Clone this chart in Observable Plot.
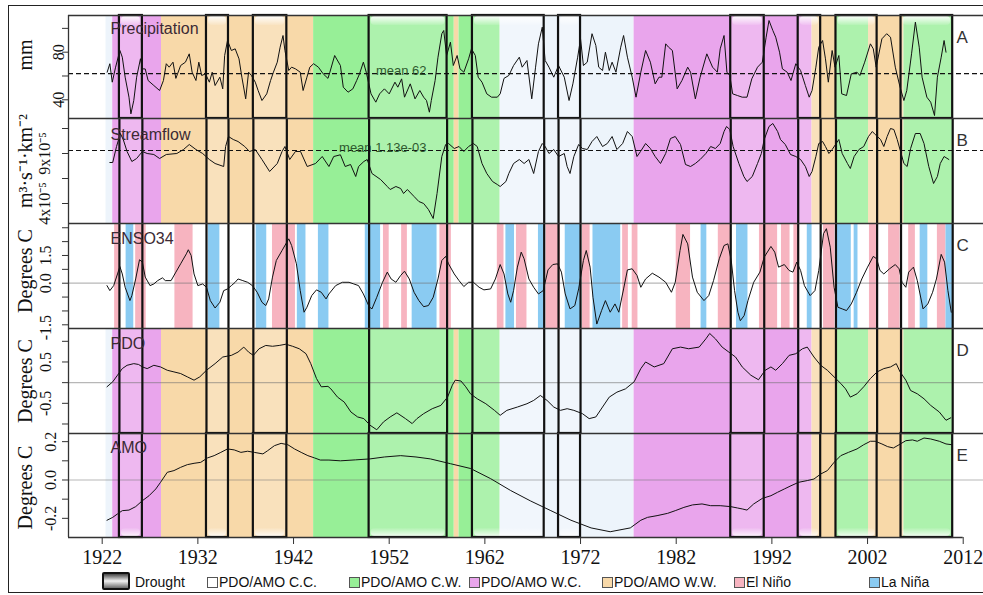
<!DOCTYPE html>
<html>
<head>
<meta charset="utf-8">
<script src="https://cdn.jsdelivr.net/npm/d3@7"></script>
<script src="https://cdn.jsdelivr.net/npm/@observablehq/plot@0.6"></script>
<style>
  body { margin: 0; background: #fff; }
  #fig { position: relative; width: 983px; height: 595px; overflow: hidden; font-family: "Liberation Sans", Arial, sans-serif; }
  #frame { position: absolute; left: 8px; top: 5px; width: 990px; height: 588px; border: 1.5px solid #222; box-sizing: border-box; }
  .lg { position: absolute; }
  .sw { position: absolute; width: 9px; height: 9px; border: 1px solid #555; }
  .lt { position: absolute; font-size: 14px; color: #111; line-height: 18px; white-space: nowrap; }
</style>
</head>
<body>
<div id="fig"><div id="frame"></div></div>
<script>
// ---------- data ----------
const years = [1922, 1932, 1942, 1952, 1962, 1972, 1982, 1992, 2002, 2012];

// PDO/AMO phase periods (C = cool, W = warm)
const phases = [
  {start: 1922.4, end: 1923.1, phase: "C.C."},
  {start: 1923.1, end: 1928.2, phase: "W.C."},
  {start: 1928.2, end: 1944.1, phase: "W.W."},
  {start: 1944.1, end: 1958.8, phase: "C.W."},
  {start: 1958.8, end: 1959.3, phase: "W.W."},
  {start: 1959.3, end: 1963.6, phase: "C.W."},
  {start: 1963.6, end: 1977.6, phase: "C.C."},
  {start: 1977.6, end: 1996.2, phase: "W.C."},
  {start: 1996.2, end: 1998.7, phase: "W.W."},
  {start: 1998.7, end: 2002.1, phase: "C.W."},
  {start: 2002.1, end: 2005.8, phase: "W.W."},
  {start: 2005.8, end: 2010.9, phase: "C.W."}
];

// Drought periods
const droughts = [
  {start: 1923.8, end: 1926.2}, {start: 1932.9, end: 1935.2}, {start: 1937.8, end: 1941.3},
  {start: 1949.9, end: 1958.05}, {start: 1960.7, end: 1968.2}, {start: 1969.7, end: 1972.0},
  {start: 1987.7, end: 1991.2}, {start: 1994.75, end: 1997.1}, {start: 1998.7, end: 2003.0},
  {start: 2005.5, end: 2010.9}
];

// ENSO events (El Niño / La Niña)
const ensoEvents = [
  {start: 1923.3, end: 1923.8, type: "nino"}, {start: 1924.5, end: 1925.3, type: "nina"},
  {start: 1925.5, end: 1926.6, type: "nino"}, {start: 1929.6, end: 1931.5, type: "nino"},
  {start: 1933.1, end: 1934.3, type: "nina"}, {start: 1938.1, end: 1939.2, type: "nina"},
  {start: 1939.8, end: 1942.2, type: "nino"}, {start: 1942.4, end: 1943.3, type: "nina"},
  {start: 1944.6, end: 1945.7, type: "nina"}, {start: 1949.5, end: 1951.1, type: "nina"},
  {start: 1951.4, end: 1952.0, type: "nino"}, {start: 1953.3, end: 1953.9, type: "nino"},
  {start: 1954.4, end: 1957.0, type: "nina"}, {start: 1957.3, end: 1958.5, type: "nino"},
  {start: 1963.3, end: 1964.0, type: "nino"}, {start: 1964.2, end: 1965.1, type: "nina"},
  {start: 1965.3, end: 1966.4, type: "nino"}, {start: 1967.6, end: 1968.3, type: "nina"},
  {start: 1968.4, end: 1969.9, type: "nino"}, {start: 1970.4, end: 1972.0, type: "nina"},
  {start: 1972.2, end: 1973.0, type: "nino"}, {start: 1973.3, end: 1976.2, type: "nina"},
  {start: 1976.4, end: 1977.0, type: "nino"}, {start: 1977.4, end: 1978.0, type: "nino"},
  {start: 1982.0, end: 1983.5, type: "nino"}, {start: 1984.6, end: 1985.2, type: "nina"},
  {start: 1986.4, end: 1987.7, type: "nino"}, {start: 1988.3, end: 1989.5, type: "nina"},
  {start: 1990.7, end: 1992.6, type: "nino"}, {start: 1993.0, end: 1993.9, type: "nino"},
  {start: 1994.3, end: 1994.8, type: "nino"}, {start: 1995.7, end: 1996.2, type: "nina"},
  {start: 1997.4, end: 1998.6, type: "nino"}, {start: 1998.8, end: 2000.3, type: "nina"},
  {start: 2000.6, end: 2001.0, type: "nina"}, {start: 2002.2, end: 2003.0, type: "nino"},
  {start: 2004.2, end: 2005.4, type: "nino"}, {start: 2006.3, end: 2007.0, type: "nino"},
  {start: 2007.5, end: 2008.3, type: "nina"}, {start: 2009.3, end: 2010.2, type: "nino"},
  {start: 2010.2, end: 2010.9, type: "nina"}
];

// Precipitation (mm), [year, value]
const precipitation = [
  [1922.52,63.2],[1922.8,70.3],[1923.05,54.8],[1923.4,67.4],[1923.85,81.4],[1924.1,75.8],[1924.4,59],[1924.8,42.2],[1925.0,28.2],[1925.3,39.4],[1925.6,59],[1926.0,74.5],[1926.2,66],[1926.5,65.9],[1926.8,56.2],[1927.4,52],[1928.0,47.8],[1928.4,56.2],[1928.7,70.3],[1929.0,67.4],[1929.4,71.6],[1929.7,58],[1930.2,68.8],[1930.7,71.6],[1931.1,78.6],[1931.4,63.2],[1931.8,56.2],[1932.1,71.6],[1932.4,60.4],[1932.8,61.8],[1933.2,54.8],[1933.5,63.2],[1933.8,52],[1934.3,59],[1934.6,49.2],[1934.8,77.2],[1935.1,89.8],[1935.5,81.4],[1935.9,82.8],[1936.3,74.4],[1936.6,59],[1937.0,40.8],[1937.3,63.2],[1937.6,60.4],[1938.0,54.8],[1938.3,47.8],[1938.7,39.4],[1939.2,45],[1939.6,56.2],[1939.9,63.2],[1940.3,71.6],[1940.6,84.2],[1940.9,94],[1941.1,81.4],[1941.5,64.6],[1941.8,67.4],[1942.2,66],[1942.7,63.2],[1943.0,47.8],[1943.4,59],[1943.7,67.4],[1944.1,70.3],[1944.6,67.4],[1945.1,61.8],[1945.6,58],
  [1945.8,63.2],[1946.3,77.2],[1946.9,68.8],[1947.2,50.6],[1947.7,46.4],[1948.2,49.2],[1948.6,56.2],[1948.9,61.8],[1949.3,71.6],[1949.6,63.2],[1950.1,45],[1950.6,38],[1951.0,45],[1951.5,49.2],[1952.0,45],[1952.6,54.8],[1952.9,50.6],[1953.3,57.6],[1953.6,42.2],[1954.2,53.4],[1954.7,40.8],[1955.2,47.8],[1955.6,42.2],[1955.9,39.4],[1956.2,29.6],[1956.4,39.4],[1956.8,56.2],[1957.1,75.8],[1957.5,95.5],[1957.7,98.2],[1958.0,77.2],[1958.4,88.4],[1958.7,68.8],[1959.1,77.2],[1959.4,66],[1959.8,63.2],[1960.3,74.4],[1960.6,82.8],[1961.0,77.2],[1961.3,59],[1961.7,54.8],[1962.2,45],[1962.7,42.2],[1963.3,42.2],[1963.6,45],[1964.0,58],[1964.5,60.4],[1965.0,68.8],[1965.6,75.8],[1965.9,67.4],[1966.4,73],[1966.9,40.8],[1967.3,67.4],[1967.6,87],[1968.0,101],[1968.3,73],[1968.7,67.4],[1969.2,59],[1969.7,68.8],[1970.3,59],[1970.8,39.4],[1971.2,53.4],[1971.7,75.8],[1972.0,91.2],[1972.3,68.8],[1972.7,71.6],[1973.2,95.5],[1973.6,85.6],[1973.9,67.4],[1974.3,64.6],[1974.6,80],[1975.0,64.6],[1975.3,71.6],[1975.7,63.2],[1976.2,84.2],[1976.5,94],[1976.9,75.8],[1977.4,59],[1977.8,42.2],
  [1978.3,63.2],[1978.8,81.4],[1979.3,71.6],[1979.8,53.4],[1980.2,59],[1980.5,59],[1980.9,87],[1981.2,84.2],[1981.6,81.4],[1982.1,49.2],[1982.6,56.2],[1983.2,67.4],[1983.5,63.2],[1984.0,40.8],[1984.5,59],[1985.2,78.6],[1985.8,67.4],[1986.3,63.2],[1986.6,82.8],[1987.0,94],[1987.3,63.2],[1987.6,60.4],[1987.9,45],[1988.4,43.6],[1988.9,42.2],[1989.4,42.2],[1989.9,57.6],[1990.5,67.4],[1991.0,71.6],[1991.4,92.6],[1991.7,106.6],[1992.1,98.2],[1992.4,92.6],[1992.8,80],[1993.1,66],[1993.6,63.2],[1994.0,56.2],[1994.5,70.3],[1995.0,64.6],[1995.5,52],[1995.9,42.2],[1996.2,47.8],[1996.6,67.4],[1996.9,84.2],[1997.3,89.8],[1997.6,74.4],[1997.9,54.8],[1998.3,81.4],[1998.6,67.4],[1999.0,77.2],[1999.3,45],[1999.8,43.6],[2000.3,61.8],[2000.9,63.2],[2001.2,60.4],[2001.7,71.6],[2002.3,87],[2002.6,82.8],[2002.9,67.4],[2003.5,91.2],[2004.0,95.5],[2004.4,92.6],[2004.9,67.4],[2005.4,50.6],[2005.8,39.4],[2006.1,47.8],[2006.6,78.6],[2007.0,105.2],[2007.4,84.2],[2007.7,59],[2008.2,42.2],[2008.6,38],[2009.0,26.8],[2009.3,59],[2009.7,75.8],[2010.0,89.8],[2010.2,80]
];
const precipMean = 62;

// Streamflow (10^-3 m3 s-1 km-2), [year, value]
const streamflow = [
  [1922.8,1.01],[1923.1,1.01],[1923.5,1.17],[1923.9,1.30],[1924.2,1.24],[1924.6,1.12],[1925.1,1.02],[1925.6,1.05],[1926.2,1.12],[1926.7,1.10],[1927.4,1.09],[1928.0,1.05],[1928.7,1.09],[1929.8,1.10],[1930.5,1.14],[1931.1,1.19],[1931.8,1.14],[1932.5,1.10],[1933.2,1.04],[1933.8,1.00],[1934.7,0.97],[1934.9,1.17],[1935.2,1.27],[1935.7,1.24],[1936.2,1.22],[1936.9,1.17],[1937.4,1.12],[1938.0,1.14],[1938.7,1.04],[1939.5,0.92],[1940.3,1.00],[1940.8,1.12],[1941.1,1.17],[1941.6,1.04],[1942.2,1.12],
  [1942.73,1.12],[1943.43,0.97],[1944.3,1.00],[1945.0,1.07],[1945.7,0.97],[1946.2,1.07],[1946.9,1.087],[1947.4,0.97],[1947.96,0.99],[1948.5,0.87],[1948.8,0.97],[1949.35,1.02],[1949.7,1.04],[1950.2,0.90],[1951.1,0.84],[1951.8,0.77],[1952.1,0.74],[1952.7,0.77],[1953.2,0.75],[1953.5,0.70],[1953.9,0.74],[1954.6,0.67],[1955.1,0.62],[1955.6,0.60],[1956.1,0.54],[1956.6,0.45],[1957.0,0.70],[1957.5,1.07],[1957.9,1.19],[1958.2,1.20],[1958.8,1.15],[1959.3,1.17],[1959.8,1.12],[1960.3,1.17],[1960.8,1.20],[1961.2,1.17],[1961.7,1.00],[1962.2,0.90],[1962.8,0.82],[1963.3,0.79],[1963.6,0.77],[1964.2,0.82],[1964.5,0.90],[1965.0,1.00],[1965.6,1.04],[1966.1,1.00],[1966.6,1.04],[1967.1,0.90],[1967.6,1.12],[1968.0,1.20],[1968.3,1.17],[1968.7,1.10],[1969.2,1.14],[1969.7,1.07],[1970.3,1.10],[1970.6,0.97],[1970.9,0.90],[1971.3,1.07],[1971.8,1.19],[1972.2,1.15],[1972.7,1.14],[1973.2,1.22],[1973.7,1.27],[1974.3,1.17],[1974.8,1.20],[1975.3,1.27],[1975.8,1.14],[1976.4,1.20],[1976.9,1.32],[1977.4,1.27],[1977.9,1.07],
  [1978.27,1.12],[1978.8,1.20],[1979.3,1.15],[1979.8,1.07],[1980.36,1.00],[1980.9,1.10],[1981.4,1.25],[1981.9,1.27],[1982.45,1.19],[1982.97,0.99],[1983.5,0.97],[1984.0,1.00],[1984.5,1.04],[1985.1,1.10],[1985.6,1.17],[1986.1,1.15],[1986.6,1.20],[1987.0,1.32],[1987.26,1.37],[1987.6,1.34],[1987.95,1.17],[1988.55,1.00],[1989.07,0.87],[1989.4,0.82],[1989.95,0.87],[1990.5,1.00],[1990.9,1.10],[1991.2,1.24],[1991.7,1.37],[1992.1,1.40],[1992.6,1.32],[1992.9,1.24],[1993.4,1.19],[1993.95,1.09],[1994.5,1.07],[1995.0,1.04],[1995.5,0.97],[1995.9,0.87],[1996.2,0.92],[1996.6,1.07],[1996.9,1.20],[1997.3,1.22],[1997.6,1.17],[1997.96,1.10],[1998.3,1.14],[1998.65,1.19],[1999.0,1.24],[1999.35,1.10],[1999.9,1.00],[2000.2,0.95],[2000.6,1.07],[2001.1,1.14],[2001.6,1.17],[2002.1,1.27],[2002.5,1.32],[2002.8,1.29],[2003.36,1.24],[2003.7,1.17],[2004.05,1.27],[2004.4,1.35],[2004.75,1.34],[2005.1,1.24],[2005.45,1.12],[2005.8,1.00],[2006.14,0.97],[2006.5,1.15],[2007.0,1.30],[2007.5,1.30],[2007.9,1.20],[2008.4,0.97],[2008.9,0.80],[2009.3,0.87],[2009.6,1.00],[2010.0,1.07],[2010.5,1.04]
];
const streamMean = 1.13;

// Niño 3.4 anomaly (°C), [year, value]
const enso34 = [
  [1922.5,-0.13],[1922.8,-0.40],[1923.2,-0.13],[1923.6,0.5],[1923.85,0.9],[1924.1,0.5],[1924.4,-0.22],[1924.9,-0.94],[1925.1,-0.67],[1925.5,0.23],[1925.9,1.27],[1926.2,1.14],[1926.5,0.33],[1927.0,-0.13],[1927.4,-0.04],[1927.8,0.14],[1928.3,0.29],[1928.6,0.14],[1929.2,0.14],[1929.7,0.6],[1930.2,1.05],[1930.8,1.59],[1931.0,1.81],[1931.3,1.5],[1931.6,0.5],[1932.0,-0.13],[1932.5,-0.04],[1932.9,-0.22],[1933.3,-0.94],[1933.8,-1.34],[1934.3,-1.03],[1934.7,-0.4],[1935.1,-0.31],[1935.5,-0.13],[1935.9,0.05],[1936.2,0.23],[1936.7,0.14],[1937.2,0.05],[1937.7,-0.13],[1938.2,-0.49],[1938.7,-1.03],[1939.1,-1.21],[1939.4,-0.85],[1939.8,0.33],[1940.2,1.23],[1940.8,1.77],[1941.5,2.4],[1941.8,2.04],[1942.3,1.05],[1942.7,-0.4],[1943.1,-1.57],[1943.4,-1.3],[1943.9,-0.67],[1944.4,-0.36],[1944.9,-0.49],[1945.4,-0.85],[1945.7,-0.58],
  [1946.4,-0.13],[1947.1,0.05],[1947.8,0.05],[1948.3,-0.04],[1948.8,-0.13],[1949.3,-0.58],[1949.9,-1.27],[1950.2,-1.39],[1950.7,-0.76],[1951.3,0.05],[1951.8,0.6],[1952.2,0.23],[1952.7,0.05],[1953.2,0.42],[1953.6,0.65],[1954.1,0.23],[1954.6,-0.49],[1955.1,-0.94],[1955.6,-1.27],[1956.1,-1.21],[1956.6,-0.76],[1957.1,0.23],[1957.5,1.23],[1957.9,1.45],[1958.2,1.05],[1958.8,0.5],[1959.3,0.14],[1959.8,-0.18],[1960.3,0.05],[1960.8,0.05],[1961.4,-0.22],[1961.9,-0.36],[1962.6,-0.31],[1963.1,0.23],[1963.6,1.01],[1964.0,0.5],[1964.4,-0.58],[1964.7,-1.03],[1965.0,-0.4],[1965.4,0.87],[1965.8,1.68],[1966.1,1.32],[1966.6,0.23],[1967.1,-0.22],[1967.6,-0.58],[1968.1,-0.4],[1968.6,0.72],[1969.1,1.01],[1969.6,1.05],[1970.0,0.6],[1970.4,-0.58],[1970.9,-1.39],[1971.4,-1.21],[1971.8,-0.31],[1972.3,1.23],[1972.6,1.77],[1973.0,0.87],[1973.3,-0.76],[1973.7,-2.21],[1974.2,-1.48],[1974.6,-0.94],[1975.1,-1.57],[1975.6,-1.12],[1976.0,-1.57],[1976.5,-0.31],[1976.9,0.72],[1977.4,0.78],[1977.9,0.42],
  [1978.3,-0.22],[1978.8,0.23],[1979.5,0.54],[1980.2,0.33],[1980.9,0.05],[1981.5,-0.49],[1981.9,0.05],[1982.4,1.77],[1982.7,2.64],[1983.2,2.13],[1983.7,0.33],[1984.2,-0.49],[1984.9,-0.94],[1985.4,-0.67],[1985.9,0.14],[1986.5,1.32],[1987.0,2.04],[1987.4,2.13],[1987.75,1.23],[1988.1,-0.4],[1988.45,-1.57],[1988.7,-2.03],[1989.1,-1.75],[1989.5,-0.94],[1990.1,0.05],[1990.75,0.6],[1991.2,1.41],[1991.9,1.99],[1992.3,1.68],[1992.7,0.87],[1993.3,1.01],[1993.8,0.69],[1994.2,0.6],[1994.6,1.14],[1995.0,0.69],[1995.4,-0.13],[1996.0,-0.67],[1996.5,-0.4],[1996.9,0.69],[1997.4,2.68],[1997.7,2.95],[1998.1,1.95],[1998.5,-0.22],[1998.9,-1.3],[1999.35,-1.39],[1999.8,-1.48],[2000.3,-1.12],[2000.85,-0.49],[2001.4,0.23],[2002.0,0.87],[2002.6,1.45],[2002.95,1.32],[2003.3,0.69],[2003.7,0.5],[2004.3,0.78],[2004.9,1.01],[2005.3,0.78],[2005.6,0.05],[2006.0,-0.22],[2006.3,0.6],[2006.8,0.87],[2007.2,0.14],[2007.8,-1.39],[2008.3,-1.12],[2008.8,-0.49],[2009.2,0.23],[2009.7,1.56],[2010.05,1.14],[2010.4,-0.4],[2010.75,-1.57]
];

// Pacific Decadal Oscillation (°C), [year, value]
const pdo = [
  [1922.5,-0.10],[1923.1,0.02],[1923.6,0.18],[1924.1,0.34],[1924.6,0.42],[1925.3,0.46],[1925.8,0.44],[1926.2,0.38],[1926.7,0.34],[1927.4,0.42],[1928.1,0.38],[1928.8,0.30],[1929.5,0.26],[1930.2,0.22],[1930.9,0.14],[1931.6,0.06],[1932.2,0.14],[1932.9,0.30],[1933.8,0.46],[1934.6,0.62],[1935.5,0.66],[1936.2,0.74],[1936.8,0.86],[1937.3,0.74],[1937.8,0.66],[1938.4,0.82],[1939.1,0.90],[1939.8,0.88],[1940.5,0.90],[1941.2,0.93],[1941.9,0.88],[1942.6,0.82],[1943.3,0.70],[1943.8,0.46],[1944.4,0.10],[1944.9,-0.10],[1945.6,-0.09],
  [1945.9,-0.15],[1946.6,-0.35],[1947.3,-0.47],[1948.0,-0.71],[1948.7,-0.83],[1949.35,-0.87],[1950.0,-1.03],[1950.7,-1.14],[1951.4,-0.95],[1952.1,-0.83],[1952.8,-0.73],[1953.7,-0.87],[1954.4,-0.99],[1954.9,-0.87],[1955.6,-0.75],[1956.5,-0.63],[1957.4,-0.55],[1958.1,-0.35],[1958.6,-0.06],[1958.9,0.06],[1959.5,0.04],[1960.0,-0.10],[1960.5,-0.27],[1961.2,-0.39],[1962.1,-0.51],[1963.0,-0.67],[1963.6,-0.79],[1964.3,-0.67],[1965.4,-0.59],[1966.4,-0.51],[1967.1,-0.43],[1967.8,-0.31],[1968.5,-0.43],[1969.2,-0.59],[1969.9,-0.67],[1970.6,-0.63],[1971.3,-0.67],[1972.2,-0.75],[1972.9,-0.87],[1973.6,-0.83],[1974.3,-0.59],[1975.0,-0.35],[1975.8,-0.23],[1976.7,-0.15],[1977.6,0.02],
  [1978.3,0.34],[1978.8,0.50],[1979.7,0.38],[1980.7,0.46],[1981.6,0.82],[1982.45,0.86],[1983.3,0.82],[1984.4,0.86],[1985.1,1.06],[1985.5,1.19],[1986.1,1.06],[1986.8,0.86],[1987.5,0.74],[1988.2,0.62],[1988.9,0.38],[1989.8,0.18],[1990.6,0.07],[1991.3,0.30],[1991.9,0.38],[1992.4,0.30],[1993.1,0.46],[1993.8,0.66],[1994.5,0.70],[1995.2,0.82],[1995.7,0.86],[1996.4,0.62],[1997.1,0.42],[1997.8,0.30],[1998.5,0.14],[1999.2,-0.02],[1999.7,-0.15],[2000.2,-0.35],[2000.9,-0.27],[2001.6,-0.10],[2002.3,0.10],[2003.0,0.26],[2003.7,0.34],[2004.4,0.38],[2005.0,0.46],[2005.4,0.26],[2006.0,0.06],[2006.5,-0.19],[2007.2,-0.27],[2007.9,-0.39],[2008.6,-0.55],[2009.5,-0.71],[2010.2,-0.91],[2010.7,-0.85]
];

// Atlantic Multidecadal Oscillation (°C), [year, value]
const amo = [
  [1922.5,-0.21],[1923.1,-0.195],[1923.6,-0.177],[1924.1,-0.16],[1924.8,-0.157],[1925.5,-0.139],[1926.2,-0.108],[1926.9,-0.082],[1927.6,-0.047],[1928.1,-0.012],[1928.8,0.04],[1929.5,0.049],[1930.2,0.066],[1930.9,0.08],[1931.6,0.087],[1932.3,0.092],[1933.0,0.115],[1933.7,0.127],[1934.4,0.144],[1935.1,0.162],[1935.8,0.157],[1936.5,0.144],[1937.2,0.15],[1937.9,0.144],[1938.8,0.136],[1939.3,0.153],[1940.0,0.179],[1940.7,0.191],[1941.4,0.184],[1942.1,0.162],[1942.8,0.144],[1943.5,0.127],[1944.2,0.115],[1944.8,0.104],[1945.7,0.104],
  [1946.9,0.10],[1948.5,0.105],[1950.0,0.11],[1951.5,0.12],[1953.2,0.127],[1954.8,0.12],[1956.3,0.11],[1958.4,0.085],[1960.5,0.06],[1962.6,0.007],[1964.7,-0.055],[1966.8,-0.11],[1968.9,-0.16],[1971.0,-0.21],[1973.1,-0.25],[1975.1,-0.27],[1977.2,-0.25],
  [1978.3,-0.21],[1979.0,-0.195],[1980.0,-0.186],[1981.1,-0.174],[1981.9,-0.16],[1982.8,-0.143],[1983.7,-0.13],[1984.7,-0.125],[1985.6,-0.134],[1986.6,-0.134],[1987.7,-0.139],[1988.4,-0.146],[1988.9,-0.151],[1989.4,-0.157],[1990.1,-0.125],[1991.0,-0.096],[1991.9,-0.082],[1992.6,-0.064],[1993.3,-0.047],[1994.0,-0.03],[1994.8,-0.012],[1995.7,-0.003],[1996.4,0.005],[1997.1,0.031],[1997.8,0.049],[1998.5,0.092],[1999.2,0.127],[2000.0,0.144],[2000.9,0.162],[2001.6,0.184],[2002.3,0.202],[2002.8,0.202],[2003.5,0.188],[2004.1,0.174],[2004.7,0.167],[2005.3,0.184],[2006.0,0.205],[2006.7,0.209],[2007.2,0.202],[2007.9,0.219],[2008.6,0.214],[2009.5,0.202],[2010.2,0.188],[2010.8,0.184]
];

// Axis ticks and their labels
const precipTicks = [40, 60, 80, 100];
const precipLabels = [{v: 40, t: "40"}, {v: 80, t: "80"}];
const streamTicks = [0.60, 0.85, 1.10, 1.35];
const streamLabels = [{v: 1.10, t: "9x10\u207B\u2075"}, {v: 0.60, t: "4x10\u207B\u2075"}];
const ensoTicks = [-2.25, -1.5, -0.75, 0, 0.75, 1.5, 2.25, 3.0];
const ensoLabels = [{v: 1.5, t: "1.5"}, {v: 0, t: "0.0"}, {v: -2.4, t: "-1.5"}];
const pdoTicks = [-1, -0.5, 0, 0.5, 1];
const pdoLabels = [{v: 0.5, t: "0.5"}, {v: -0.5, t: "-0.5"}];
const amoTicks = [-0.2, -0.1, 0, 0.1, 0.2];
const amoLabels = [{v: 0.2, t: "0.2"}, {v: 0, t: "0.0"}, {v: -0.2, t: "-0.2"}];

const phaseColor = {"C.C.": "#edf4fb", "C.W.": "#97ef97", "W.C.": "#e9a5ec", "W.W.": "#f8d9a9"};
const ensoColor = {nino: "#f7b4c0", nina: "#8acbf2"};

// ---------- drawing ----------
const fig = document.getElementById("fig");
const serif = "'Liberation Serif','Times New Roman',serif";
const sans = "'Liberation Sans',Arial,sans-serif";
const xDomain = [1918.478, 2014.12];
const ink = "#111";
const titleColor = "#3c2a34";

function addPanel(top, h, yDomain, marks, marginBottom = 0) {
  const svg = Plot.plot({
    width: 983, height: h + marginBottom,
    marginLeft: 68, marginRight: 0, marginTop: 0, marginBottom,
    x: {domain: xDomain, axis: null},
    y: {domain: yDomain, axis: null},
    color: {type: "identity"},
    style: {background: "none", overflow: "visible"},
    marks
  });
  svg.style.position = "absolute";
  svg.style.left = "0px";
  svg.style.top = top + "px";
  fig.appendChild(svg);
  return svg;
}

const phaseBackdrop = () => Plot.rect(phases, {x1: "start", x2: "end", fill: d => phaseColor[d.phase]});
const droughtHaze = () => Plot.rect(droughts, {x1: "start", x2: "end", fill: "#fff", fillOpacity: 0.22});
const droughtSides = () => Plot.ruleX(droughts.flatMap(d => [d.start, d.end]), {stroke: ink, strokeWidth: 2.2});
const series = (data) => Plot.line(data, {x: d => d[0], y: d => d[1], stroke: ink, strokeWidth: 1});
const zeroLine = () => Plot.ruleY([0], {stroke: "#6f6f6f", strokeOpacity: 0.5, strokeWidth: 1.2});
const topLine = (v) => Plot.ruleY([v], {stroke: "#333", strokeWidth: 1.3});

function leftAxis(ticks, labels, labelDx, title, titleDy) {
  return [
    Plot.ruleX([xDomain[0]], {stroke: "#333", strokeWidth: 1.3}),
    Plot.tickY(ticks, {y: d => d, insetLeft: -6, insetRight: 915, stroke: "#333"}),
    Plot.text(labels, {y: d => d.v, text: d => d.t, frameAnchor: "left", dx: labelDx, rotate: -90,
      textAnchor: "middle", lineAnchor: "middle", fontFamily: serif, fontSize: 16, fill: ink}),
    Plot.text([title], {frameAnchor: "left", dx: -43, dy: titleDy, rotate: -90,
      textAnchor: "middle", lineAnchor: "middle", fontFamily: serif, fontSize: 20, fill: ink})
  ];
}
const panelTitle = (t, dy) => Plot.text([t], {frameAnchor: "top-left", dx: 42, dy, textAnchor: "start",
  lineAnchor: "top", fontFamily: sans, fontSize: 16, fill: titleColor});
const panelLetter = (t) => Plot.text([t], {frameAnchor: "top-right", dx: -27, dy: 22, textAnchor: "start",
  lineAnchor: "middle", fontFamily: sans, fontSize: 17, fill: "#333"});

// A: precipitation
const yA = [24.3, 110.8];
const svgA = addPanel(15, 103, yA, [
  phaseBackdrop(), droughtHaze(),
  Plot.rect(droughts, {x1: "start", x2: "end", fill: "url(#glossTop)", insetTop: 1, insetBottom: 93, insetLeft: 2, insetRight: 2, rx: 4}),
  Plot.ruleY([precipMean], {stroke: ink, strokeDasharray: "5,3", strokeWidth: 1.1}),
  Plot.text([{x: 1955.9, y: precipMean, t: "mean 62"}], {x: "x", y: "y", text: "t", textAnchor: "end", lineAnchor: "bottom", dy: 1, fontFamily: sans, fontSize: 13, fill: "#2f5a2f"}),
  series(precipitation),
  Plot.rect(droughts, {x1: "start", x2: "end", stroke: ink, strokeWidth: 2.2, fill: "none"}),
  topLine(yA[1]),
  ...leftAxis(precipTicks, precipLabels, -10, "mm", -12),
  panelTitle("Precipitation", 7), panelLetter("A")
]);
d3.select(svgA).insert("defs", ":first-child").html(
  `<linearGradient id="glossTop" x1="0" y1="0" x2="0" y2="1"><stop offset="0" stop-color="#fff" stop-opacity="0.95"/><stop offset="1" stop-color="#fff" stop-opacity="0.1"/></linearGradient>
   <linearGradient id="glossBottom" x1="0" y1="0" x2="0" y2="1"><stop offset="0" stop-color="#fff" stop-opacity="0.05"/><stop offset="1" stop-color="#fff" stop-opacity="0.8"/></linearGradient>`);

// B: streamflow
const yB = [0.40, 1.45];
addPanel(118, 105, yB, [
  phaseBackdrop(), droughtHaze(),
  Plot.ruleY([streamMean], {stroke: ink, strokeDasharray: "5,3", strokeWidth: 1.1}),
  Plot.text([{x: 1955.9, y: streamMean, t: "mean 1.13e-03"}], {x: "x", y: "y", text: "t", textAnchor: "end", lineAnchor: "bottom", dy: 1, fontFamily: sans, fontSize: 13, fill: "#2f5a2f"}),
  series(streamflow),
  droughtSides(),
  topLine(yB[1]),
  ...leftAxis(streamTicks, streamLabels, -24, "m\u00B3\u00B7s\u207B\u00B9\u00B7km\u207B\u00B2", -10),
  panelTitle("Streamflow", 10), panelLetter("B")
]);

// C: ENSO 3.4
const yC = [-2.45, 3.23];
addPanel(223, 105, yC, [
  Plot.rect(ensoEvents, {x1: "start", x2: "end", fill: d => ensoColor[d.type]}),
  zeroLine(),
  series(enso34),
  droughtSides(),
  topLine(yC[1]),
  ...leftAxis(ensoTicks, ensoLabels, -23, "Degrees C", -5),
  panelTitle("ENSO34", 9), panelLetter("C")
]);

// D: PDO
const yD = [-1.23, 1.31];
addPanel(328, 105, yD, [
  phaseBackdrop(), droughtHaze(),
  zeroLine(),
  series(pdo),
  droughtSides(),
  topLine(yD[1]),
  ...leftAxis(pdoTicks, pdoLabels, -23, "Degrees C", 0),
  panelTitle("PDO", 9), panelLetter("D")
]);

// E: AMO, with the time axis below
const yE = [-0.30, 0.2425];
addPanel(433, 104, yE, [
  phaseBackdrop(), droughtHaze(),
  Plot.rect(droughts, {x1: "start", x2: "end", fill: "url(#glossBottom)", insetTop: 95, insetBottom: 1, insetLeft: 2, insetRight: 2, rx: 4}),
  zeroLine(),
  series(amo),
  Plot.rect(droughts, {x1: "start", x2: "end", stroke: ink, strokeWidth: 2.2, fill: "none"}),
  topLine(yE[1]),
  Plot.ruleY([yE[0]], {x1: xDomain[0], x2: years[years.length - 1], stroke: "#333", strokeWidth: 1.3}),
  Plot.tickX(years, {x: d => d, insetTop: 104, insetBottom: -7, stroke: "#333"}),
  Plot.text(years, {x: d => d, text: d => String(d), frameAnchor: "bottom", dy: 20, lineAnchor: "middle", fontFamily: serif, fontSize: 20, fill: ink}),
  ...leftAxis(amoTicks, amoLabels, -18, "Degrees C", 2),
  panelTitle("AMO", 8), panelLetter("E")
], 40);

// ---------- legend ----------
const legendItems = [
  {label: "PDO/AMO C.C.", color: "#fff"},
  {label: "PDO/AMO C.W.", color: phaseColor["C.W."]},
  {label: "PDO/AMO W.C.", color: phaseColor["W.C."]},
  {label: "PDO/AMO W.W.", color: phaseColor["W.W."]},
  {label: "El Ni\u00F1o", color: ensoColor.nino},
  {label: "La Ni\u00F1a", color: ensoColor.nina}
];
const legendLeft = [207, 349, 469, 602, 734, 869];

const icon = document.createElement("div");
icon.className = "lg";
Object.assign(icon.style, {left: "102px", top: "572px", width: "28px", height: "18px", border: "2px solid #111",
  boxSizing: "border-box", borderRadius: "2px", background: "linear-gradient(#454545, #f2f2f2 50%, #6a6a6a)"});
fig.appendChild(icon);
const dl = document.createElement("div");
dl.className = "lt"; dl.textContent = "Drought";
Object.assign(dl.style, {left: "135px", top: "573px"});
fig.appendChild(dl);

legendItems.forEach((item, i) => {
  const sw = document.createElement("div");
  sw.className = "sw";
  Object.assign(sw.style, {left: legendLeft[i] + "px", top: "577px", background: item.color});
  fig.appendChild(sw);
  const tx = document.createElement("div");
  tx.className = "lt"; tx.textContent = item.label;
  Object.assign(tx.style, {left: (legendLeft[i] + 12) + "px", top: "573px"});
  fig.appendChild(tx);
});
</script>
</body>
</html>
